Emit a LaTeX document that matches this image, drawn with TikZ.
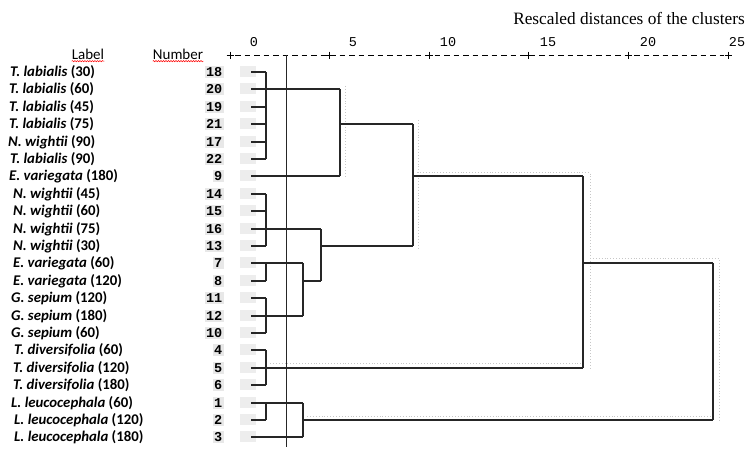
\documentclass[tikz,border=0pt]{standalone}
\usepackage{fontspec}
\setmainfont{Carlito}
\newfontfamily\monofont{Liberation Mono}
\newfontfamily\seriffont{Liberation Serif}
\usetikzlibrary{decorations.pathmorphing}
\newcommand{\taxon}[2]{\textit{#1} (#2)}

\begin{document}
\begin{tikzpicture}[x=1pt, y=-1pt,
  lab/.style={anchor=west, inner sep=0pt, font=\fontsize{14.8}{16}\selectfont\bfseries},
  num/.style={anchor=east, inner sep=1.5pt, fill=black!9, font=\monofont\bfseries\fontsize{13.5}{14}\selectfont},
  head/.style={inner sep=0pt, font=\fontsize{15}{16}\selectfont},
  tick/.style={font=\monofont\fontsize{13.5}{14}\selectfont},
  link/.style={line width=2pt, black!85},
  ghost/.style={black!22, dotted, line width=0.9pt},
  spell/.style={red, line width=0.5pt, decorate, decoration={snake, amplitude=0.6pt, segment length=2.5pt}}]
  \useasboundingbox (0,0) rectangle (750,461);

  % title and headers
  \node[anchor=east, inner sep=0pt, font=\seriffont\fontsize{17.3}{19}\selectfont] (title) at (745,18) {Rescaled distances of the clusters};
  \node[head] (hlabel) at (88,54) {Label};
  \node[head] (hnum) at (178,54) {Number};
  \draw[spell] ([yshift=-2pt]hlabel.base west) -- ([yshift=-2pt]hlabel.base east);
  \draw[spell] ([yshift=-2pt]hnum.base west) -- ([yshift=-2pt]hnum.base east);

  % axis
  \coordinate (ax0) at (230,55);
  \coordinate (ax25) at (728,55);
  \draw[dash pattern=on 5.5pt off 4pt, line width=0.8pt] ([xshift=5pt]ax0) -- ([xshift=-4pt]ax25);
  \foreach \k in {0,...,5}
    \draw[line width=0.8pt] (230+99.6*\k-3.5,55) -- ++(7,0) (230+99.6*\k,51.5) -- ++(0,7);
  \foreach \t/\x in {0/254, 5/353, 10/448, 15/548, 20/648, 25/737}
    \node[tick] (t\t) at (\x,42) {\t};

  % leaves
  \foreach \i/\n/\sp/\d/\x in {
      0/18/T. labialis/30/10, 1/20/T. labialis/60/9, 2/19/T. labialis/45/9,
      3/21/T. labialis/75/9, 4/17/N. wightii/90/8, 5/22/T. labialis/90/10,
      6/9/E. variegata/180/9, 7/14/N. wightii/45/13, 8/15/N. wightii/60/13,
      9/16/N. wightii/75/13, 10/13/N. wightii/30/13, 11/7/E. variegata/60/13,
      12/8/E. variegata/120/13, 13/11/G. sepium/120/11, 14/12/G. sepium/180/11,
      15/10/G. sepium/60/11, 16/4/T. diversifolia/60/14, 17/5/T. diversifolia/120/13,
      18/6/T. diversifolia/180/13, 19/1/L. leucocephala/60/11,
      20/2/L. leucocephala/120/14, 21/3/L. leucocephala/180/14} {
    \pgfmathsetmacro\yy{round(72+17.4*\i)}
    \node[lab] (s\n) at (\x,\yy) {\taxon{\sp}{\d}};
    \node[num] (n\n) at (224,\yy) {\n};
    \fill[black!7] (240,\yy-6) rectangle (256,\yy+5);
    \coordinate (l\n) at (251,\yy);
  }

  % merge points
  \coordinate (a1) at (266,89);
  \coordinate (a2) at (340,124);
  \coordinate (a3) at (413,176);
  \coordinate (b1) at (266,229);
  \coordinate (b2) at (266,263);
  \coordinate (b3) at (266,316);
  \coordinate (b4) at (303,281);
  \coordinate (b5) at (321,246);
  \coordinate (c1) at (266,368);
  \coordinate (r1) at (583,263);
  \coordinate (d1) at (266,403);
  \coordinate (d2) at (303,420);
  \coordinate (r2) at (713,340);

  % faint shadows
  \draw[ghost] (417,172.5) -- (590,172.5) -- (590,370);
  \draw[ghost] (590,258.5) -- (719,258.5) -- (719,420);
  \draw[ghost] (270,363) -- (583,363);
  \draw[ghost] (307,416.5) -- (713,416.5);
  \draw[ghost] (345,86) -- (345,178);
  \draw[ghost] (418,120) -- (418,248);

  % cut line
  \coordinate (cutT) at (286,55);
  \coordinate (cutB) at (286,447);
  \draw[line width=0.9pt, black!85] (cutT) -- (cutB);

  % dendrogram
  \begin{scope}[link]
    \foreach \n in {18,20,19,21,17,22} \draw (l\n) -- (l\n -| a1);
    \foreach \n in {14,15,16,13} \draw (l\n) -- (l\n -| b1);
    \foreach \n in {7,8} \draw (l\n) -- (l\n -| b2);
    \foreach \n in {11,12,10} \draw (l\n) -- (l\n -| b3);
    \foreach \n in {4,5,6} \draw (l\n) -- (l\n -| c1);
    \foreach \n in {1,2} \draw (l\n) -- (l\n -| d1);
    \draw (l9) -- (l9 -| a2);
    \draw (l3) -- (l3 -| d2);

    \draw (a1 |- l18) -- (a1 |- l22);
    \draw (b1 |- l14) -- (b1 |- l13);
    \draw (b2 |- l7) -- (b2 |- l8);
    \draw (b3 |- l11) -- (b3 |- l10);
    \draw (c1 |- l4) -- (c1 |- l6);
    \draw (d1 |- l1) -- (d1 |- l2);
    \draw (a2 |- a1) -- (a2 |- l9);
    \draw (b4 |- b2) -- (b4 |- b3);
    \draw (b5 |- b1) -- (b5 |- b4);
    \draw (a3 |- a2) -- (a3 |- b5);
    \draw (d2 |- d1) -- (d2 |- l3);
    \draw (r1 |- a3) -- (r1 |- c1);
    \draw (r2 |- r1) -- (r2 |- d2);

    \draw (a1) -- (a1 -| a2);
    \draw (a2) -- (a2 -| a3);
    \draw (b2) -- (b2 -| b4);
    \draw (b3) -- (b3 -| b4);
    \draw (b4) -- (b4 -| b5);
    \draw (b1) -- (b1 -| b5);
    \draw (b5) -- (b5 -| a3);
    \draw (a3) -- (a3 -| r1);
    \draw (c1) -- (c1 -| r1);
    \draw (r1) -- (r1 -| r2);
    \draw (d1) -- (d1 -| d2);
    \draw (d2) -- (d2 -| r2);
  \end{scope}
\end{tikzpicture}
\end{document}
